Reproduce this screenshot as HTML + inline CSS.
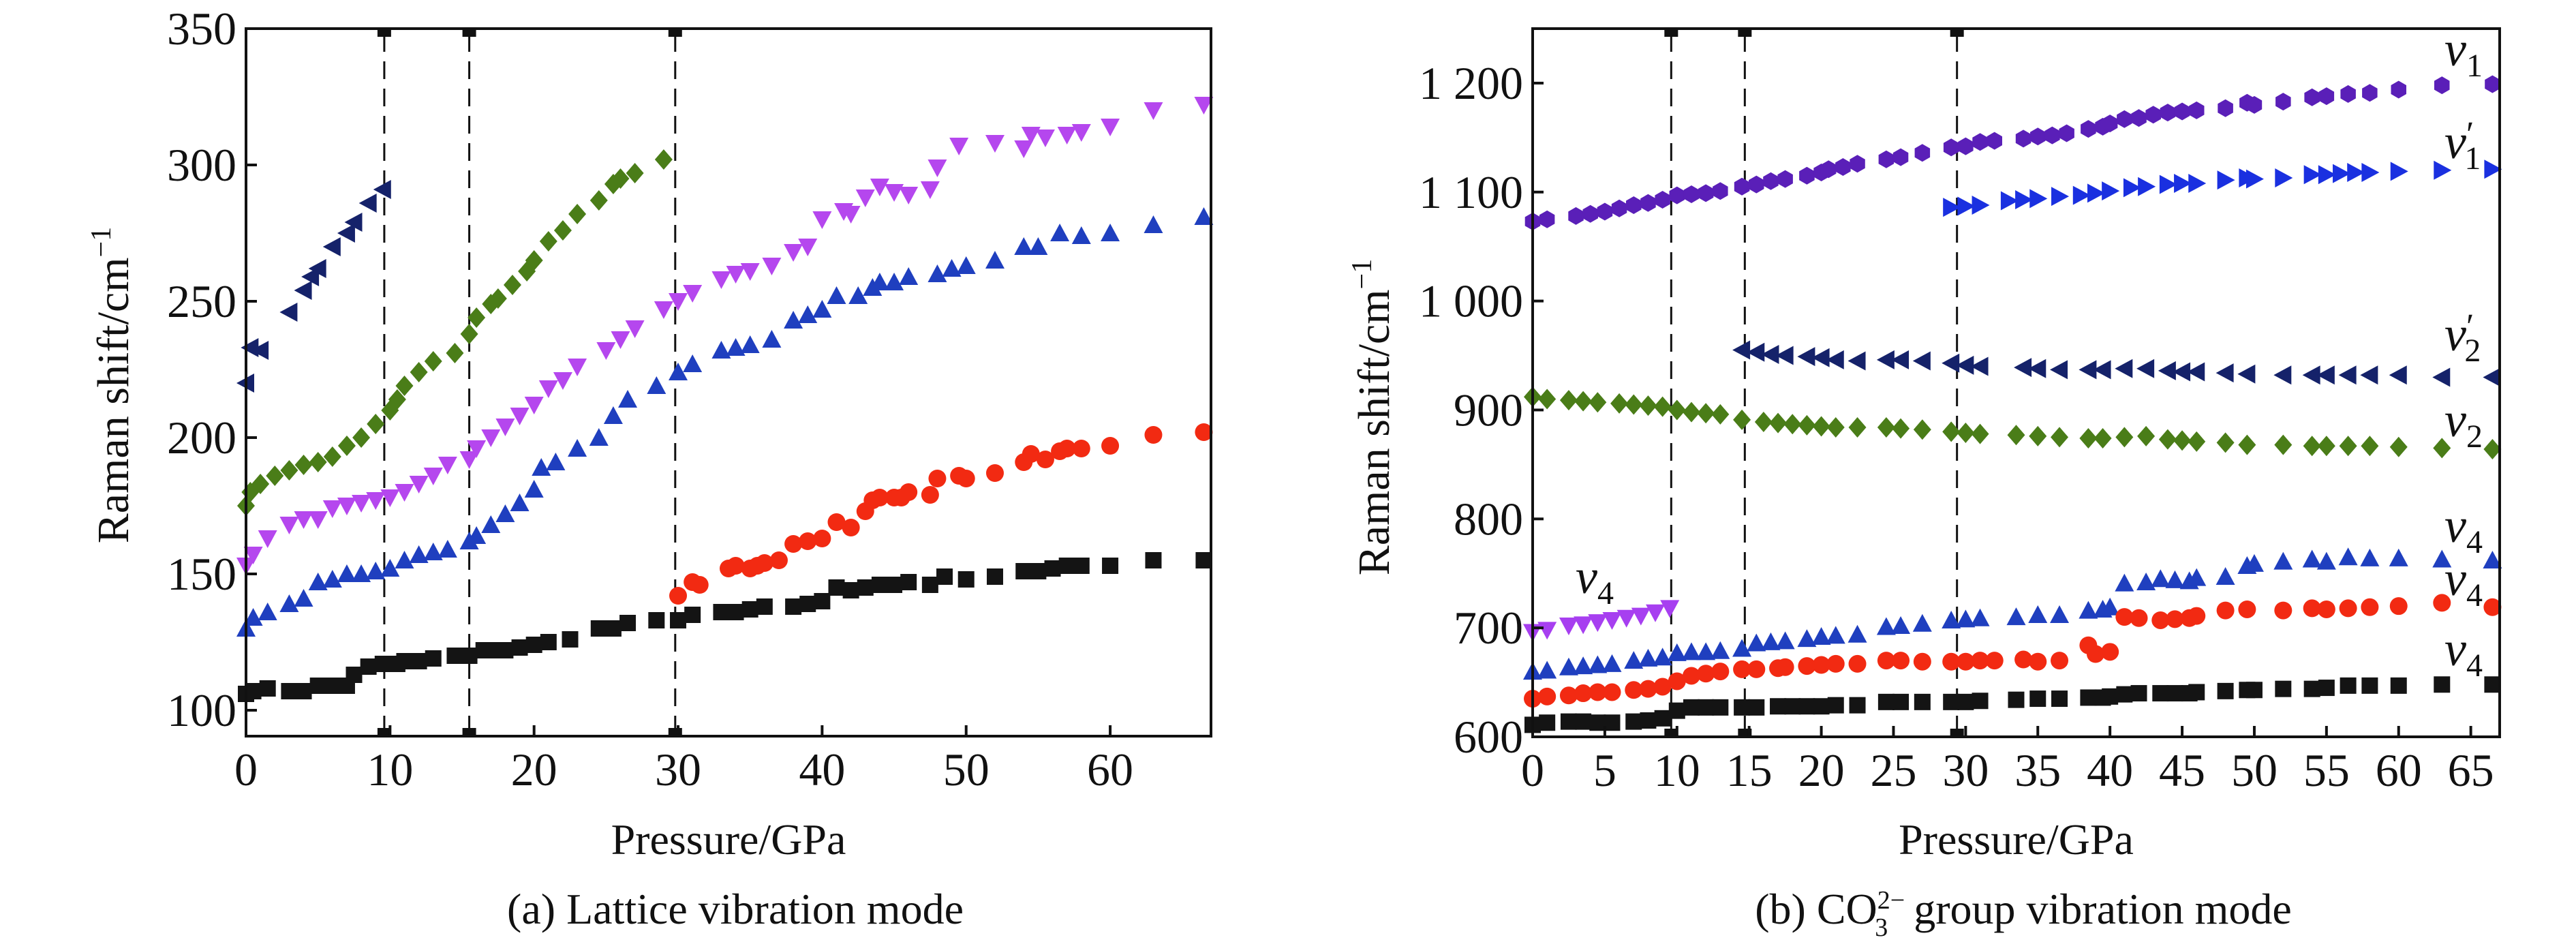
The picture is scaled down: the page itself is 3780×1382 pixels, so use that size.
<!DOCTYPE html>
<html><head><meta charset="utf-8">
<style>
html,body{margin:0;padding:0;background:#fff;}
svg{display:block;}
svg text{font-family:"Liberation Serif","DejaVu Serif",serif !important;fill:#111;}
</style></head>
<body>
<svg id="fig" width="3780" height="1382" viewBox="0 0 3780 1382" xmlns="http://www.w3.org/2000/svg" font-family="Liberation Serif, DejaVu Serif, serif">
<g id="pa"></g>
<g id="pb"></g>
</svg>
<script>
// ---------- Panel (a) data ----------
const aBlackX=[0,0.5,1.5,3,4,5,6,7,7.5,8.5,9.5,10.5,11,12,13,14.5,15.5,16.5,17.5,18,19,20,21,22.5,24.5,25.5,26.5,28.5,30,31,33,34,35,36,38,39,40,41,42,43,44,45,46,47.5,48.5,50,52,54,55,56,57,58,60,63,66.5];
const aBlackY=[106,107,108,107,107,109,109,109,113,116,117,117,118,118,119,120,120,122,122,122,123,124,125,126,130,130,132,133,133,135,136,136,137,138,138,139,140,145,144,145,146,146,147,146,149,148,149,151,151,152,153,153,153,155,155];
const aRedX=[30,31,31.5,33.5,34,35,35.5,36,37,38,39,40,41,42,43,43.5,44,45,45.5,46,47.5,48,49.5,50,52,54,54.5,55.5,56.5,57,58,60,63,66.5];
const aRedY=[142,147,146,152,153,152,153,154,155,161,162,163,169,167,173,177,178,178,178,180,179,185,186,185,187,191,194,192,195,196,196,197,201,202];
const aBlueX=[0,0.5,1.5,3,4,5,6,7,8,9,10,11,12,13,14,15.5,16,17,18,19,20,20.5,21.5,23,24.5,25.5,26.5,28.5,30,31,33,34,35,36.5,38,39,40,41,42.5,43.5,44,45,46,48,49,50,52,54,55,56.5,58,60,63,66.5];
const aBlueY=[130,134,136,139,141,147,148,150,150,151,152,155,157,158,159,162,164,168,172,176,181,189,191,196,200,208,214,219,224,227,232,233,234,236,243,245,247,252,252,255,257,257,259,260,262,263,265,270,270,275,274,275,278,281];
const aMagX=[0,0.5,1.5,3,4,5,6,7,8,9,10,11,12,13,14,15.5,16,17,18,19,20,21,22,23,25,26,27,29,30,31,33,34,35,36.5,38,39,40,41.5,42,43,44,45,46,47.5,48,49.5,52,54,54.5,55.5,57,58,60,63,66.5];
const aMagY=[153,157,163,168,170,170,174,175,176,177,178,180,183,186,190,192,196,200,204,208,212,218,221,226,232,236,240,247,250,253,258,260,261,263,268,270,280,283,282,288,292,290,289,291,299,307,308,306,311,310,311,312,314,320,322];
const aGreenX=[0,0.3,1,2,3,4,5,6,7,8,9,10,10.5,11,12,13,14.5,15.5,16,17,17.5,18.5,19.5,20,21,22,23,24.5,25.5,26,27,29];
const aGreenY=[175,180,183,186,188,190,191,193,197,200,205,210,214,219,224,228,231,238,244,249,251,256,261,265,272,276,282,287,293,295,297,302];
const aNavyX=[0,0.3,1,3,4,4.5,5,6,7,7.5,8.5,9.5];
const aNavyY=[220,233,232,246,254,259,262,270,275,279,286,291];
const aXTicks=[0,10,20,30,40,50,60];
const aYTicks=[100,150,200,250,300,350];
const aDashes=[9.6,15.5,29.8];

// ---------- Panel (b) data ----------
const bV1X=[0,1,3,4,5,6,7,8,9,10,11,12,13,14.5,15.5,16.5,17.5,19,20,20.5,21.5,22.5,24.5,25.5,27,29,30,31,32,34,35,36,37,38.5,39.5,40,41,42,43,44,45,46,48,49.5,50,52,54,55,56.5,58,60,63,66.5];
const bV1Y=[1073,1075,1078,1080,1082,1085,1088,1090,1093,1097,1098,1099,1101,1105,1107,1110,1112,1115,1118,1121,1123,1126,1130,1132,1136,1141,1142,1146,1147,1149,1151,1152,1154,1158,1160,1163,1167,1168,1171,1173,1174,1175,1177,1182,1180,1183,1187,1188,1190,1191,1194,1198,1199];
const bV1pX=[29,30,31,33,34,35,36.5,38,39,40,41.5,42.5,44,45,46,48,49.5,50,52,54,55,56,57,58,60,63,66.5];
const bV1pY=[1086,1087,1088,1092,1093,1094,1096,1097,1099,1101,1104,1105,1107,1108,1108,1111,1113,1112,1113,1116,1116,1117,1118,1118,1119,1120,1121];
const bV2pX=[14.5,15.5,16.5,17.5,19,20,21,22.5,24.5,25.5,27,29,30,31,34,35,36.5,38.5,39.5,41,42.5,44,45,46,48,49.5,52,54,55,56.5,58,60,63,66.5];
const bV2pY=[955,953,951,950,949,948,946,945,946,946,945,943,941,940,939,938,937,937,937,938,938,936,935,935,934,933,932,932,932,932,932,932,930,930];
const bV2X=[0,1,2.5,3.5,4.5,6,7,8,9,10,11,12,13,14.5,16,17,18,19,20,21,22.5,24.5,25.5,27,29,30,31,33.5,35,36.5,38.5,39.5,41,42.5,44,45,46,48,49.5,52,54,55,56.5,58,60,63,66.5];
const bV2Y=[912,910,909,908,907,906,905,904,903,900,898,897,896,891,889,888,887,886,885,884,884,884,883,882,880,879,878,877,876,875,874,874,875,876,873,872,871,870,868,868,867,867,867,867,866,865,864];
const bMagX=[0,1,2.5,3.5,4.5,5.5,6.5,7.5,8.5,9.5];
const bMagY=[696,698,702,703,705,707,709,711,714,718];
const bBlueX=[0,1,2.5,3.5,4.5,5.5,7,8,9,10,11,12,13,14.5,15.5,16.5,17.5,19,20,21,22.5,24.5,25.5,27,29,30,31,33.5,35,36.5,38.5,39.5,40,41,42.5,43.5,44.5,45.5,46,48,49.5,50,52,54,55,56.5,58,60,63,66.5];
const bBlueY=[660,661,664,665,666,667,670,672,673,677,678,678,679,681,686,687,688,690,692,693,694,701,702,704,707,708,709,710,712,712,716,717,719,741,742,745,744,743,746,747,757,759,761,763,761,765,764,764,763,762];
const bRedX=[0,1,2.5,3.5,4.5,5.5,7,8,9,10,11,12,13,14.5,15.5,17,17.5,19,20,21,22.5,24.5,25.5,27,29,30,31,32,34,35,36.5,38.5,39,40,41,42,43.5,44.5,45.5,46,48,49.5,52,54,55,56.5,58,60,63,66.5];
const bRedY=[635,637,638,640,641,641,643,644,646,651,656,658,660,662,662,663,664,665,666,667,667,670,670,669,669,669,670,670,671,669,670,684,676,678,710,709,707,708,709,711,716,717,716,718,717,718,719,720,723,719];
const bBlackX=[0,1,2.5,3.5,4.5,5.5,7,8,9,10,11,12,13,14.5,15.5,17,18,19,20,21,22.5,24.5,25.5,27,29,30,31,33.5,35,36.5,38.5,39.5,40,41,42,43.5,44.5,45.5,46,48,49.5,50,52,54,55,56.5,58,60,63,66.5];
const bBlackY=[611,613,614,614,613,613,614,615,617,624,627,627,627,627,627,628,628,628,628,629,629,632,632,632,632,632,633,634,635,635,636,636,637,639,640,640,640,640,641,642,643,643,644,644,645,647,647,647,648,648];
const bXTicks=[0,5,10,15,20,25,30,35,40,45,50,55,60,65];
const bYTicks=[600,700,800,900,1000,1100,1200];
const bYLabels=["600","700","800","900","1 000","1 100","1 200"];
const bDashes=[9.6,14.7,29.4];

const NS="http://www.w3.org/2000/svg";
const FONT='Liberation Serif, DejaVu Serif, serif';
function mk(tag,attrs,parent){const e=document.createElementNS(NS,tag);for(const k in attrs)e.setAttribute(k,attrs[k]);if(tag==='text')e.setAttribute('font-family',FONT);parent.appendChild(e);return e;}

function marker(g,shape,cx,cy,color){
  const s=13;let e;
  if(shape==='sq'){e=mk('rect',{x:cx-s+1,y:cy-s+1,width:2*s-2,height:2*s-2,fill:color},g);}
  else if(shape==='circ'){e=mk('circle',{cx:cx,cy:cy,r:s,fill:color},g);}
  else if(shape==='hex'){const p=[];for(let i=0;i<6;i++){const a=Math.PI/6+i*Math.PI/3;p.push((cx+s*Math.cos(a)).toFixed(1)+','+(cy+s*Math.sin(a)).toFixed(1));}e=mk('polygon',{points:p.join(' '),fill:color},g);}
  else if(shape==='up'){e=mk('polygon',{points:`${cx},${cy-s-1} ${cx+s+1},${cy+s-1} ${cx-s-1},${cy+s-1}`,fill:color},g);}
  else if(shape==='down'){e=mk('polygon',{points:`${cx},${cy+s+1} ${cx+s+1},${cy-s+1} ${cx-s-1},${cy-s+1}`,fill:color},g);}
  else if(shape==='left'){e=mk('polygon',{points:`${cx-s-1},${cy} ${cx+s-1},${cy-s-1} ${cx+s-1},${cy+s+1}`,fill:color},g);}
  else if(shape==='right'){e=mk('polygon',{points:`${cx+s+1},${cy} ${cx-s+1},${cy-s-1} ${cx-s+1},${cy+s+1}`,fill:color},g);}
  else if(shape==='dia'){e=mk('polygon',{points:`${cx},${cy-s-2} ${cx+s},${cy} ${cx},${cy+s+2} ${cx-s},${cy}`,fill:color},g);}
  
  
  return e;
}

function panel(g,cfg){
  const L=cfg.L,R=cfg.R,T=cfg.T,B=cfg.B;
  const sx=v=>L+(v-cfg.x0)/(cfg.x1-cfg.x0)*(R-L);
  const sy=v=>B-(v-cfg.y0)/(cfg.y1-cfg.y0)*(B-T);
  cfg.dashes.forEach(d=>{
    const x=sx(d);
    const ln=mk('line',{x1:x,y1:T+8,x2:x,y2:B-8,stroke:'#111','stroke-width':3,'stroke-dasharray':'26,14'},g);
    
    
    const r1=mk('rect',{x:x-10,y:T,width:20,height:12,fill:'#111'},g);
    
    
    const r2=mk('rect',{x:x-10,y:B-12,width:20,height:12,fill:'#111'},g);
    
    
  });
  cfg.series.forEach(s=>{
    const sg=mk('g',{},g);
    
    
    s.x.forEach((xv,i)=>marker(sg,s.shape,sx(xv),sy(s.y[i]),s.color));
  });
  const fr=mk('rect',{x:L,y:T,width:R-L,height:B-T,fill:'none',stroke:'#111','stroke-width':4},g);
  
  
  cfg.xTicks.forEach(t=>{
    const x=sx(t);
    const tk=mk('line',{x1:x,y1:B,x2:x,y2:B-16,stroke:'#111','stroke-width':4},g);
    
    
    const tx=mk('text',{x:x,y:B+72,'font-size':68,'text-anchor':'middle'},g);
    tx.textContent=String(t);
    
    
  });
  cfg.yTicks.forEach((t,i)=>{
    const y=sy(t);
    const tk=mk('line',{x1:L,y1:y,x2:L+16,y2:y,stroke:'#111','stroke-width':4},g);
    
    
    const tx=mk('text',{x:L-14,y:y+23,'font-size':68,'text-anchor':'end'},g);
    tx.textContent=cfg.yLabels?cfg.yLabels[i]:String(t);
    
    
  });
  const xt=mk('text',{x:(L+R)/2,y:1253,'font-size':64,'text-anchor':'middle'},g);
  xt.textContent='Pressure/GPa';
  
  
  const yt=mk('text',{x:0,y:0,'font-size':66,'text-anchor':'middle',transform:`translate(${cfg.ytX},${cfg.ytY}) rotate(-90)`},g);
  yt.innerHTML='Raman shift/cm<tspan dy="-26" font-size="42">−1</tspan>';
  
  
  return {sx,sy};
}

const ga=document.getElementById('pa');
panel(ga,{L:361,R:1777,T:42,B:1080,x0:0,x1:67,y0:90.5,y1:350,dashes:aDashes,xTicks:aXTicks,yTicks:aYTicks,ytX:188,ytY:565,
 series:[
  {name:'series-black-squares',shape:'sq',color:'#141414',x:aBlackX,y:aBlackY},
  {name:'series-red-circles',shape:'circ',color:'#f22a12',x:aRedX,y:aRedY},
  {name:'series-blue-up-triangles',shape:'up',color:'#1f3fbf',x:aBlueX,y:aBlueY},
  {name:'series-magenta-down-triangles',shape:'down',color:'#b547ee',x:aMagX,y:aMagY},
  {name:'series-green-diamonds',shape:'dia',color:'#4a7d18',x:aGreenX,y:aGreenY},
  {name:'series-navy-left-triangles',shape:'left',color:'#15226a',x:aNavyX,y:aNavyY}
 ]});
const ca=mk('text',{x:1079,y:1355,'font-size':64,'text-anchor':'middle'},ga);
ca.textContent='(a) Lattice vibration mode';



const gb=document.getElementById('pb');
panel(gb,{L:2249,R:3668,T:42,B:1081,x0:0,x1:67,y0:600,y1:1250,dashes:bDashes,xTicks:bXTicks,yTicks:bYTicks,yLabels:bYLabels,ytX:2038,ytY:612,
 series:[
  {name:'series-v1-hexagons',shape:'hex',color:'#5a1fb8',x:bV1X,y:bV1Y},
  {name:'series-v1-prime-right-triangles',shape:'right',color:'#1a30e0',x:bV1pX,y:bV1pY},
  {name:'series-v2-prime-left-triangles',shape:'left',color:'#15226a',x:bV2pX,y:bV2pY},
  {name:'series-v2-diamonds',shape:'dia',color:'#4a7d18',x:bV2X,y:bV2Y},
  {name:'series-v4-magenta-down-triangles',shape:'down',color:'#a73ff0',x:bMagX,y:bMagY},
  {name:'series-v4-blue-up-triangles',shape:'up',color:'#1f3fbf',x:bBlueX,y:bBlueY},
  {name:'series-v4-red-circles',shape:'circ',color:'#f22a12',x:bRedX,y:bRedY},
  {name:'series-v4-black-squares',shape:'sq',color:'#141414',x:bBlackX,y:bBlackY}
 ]});
const labels=[
 {x:3587,y:96,sub:'1',p:false,n:'label-v1'},
 {x:3587,y:232,sub:'1',p:true,n:'label-v1-prime'},
 {x:3587,y:514,sub:'2',p:true,n:'label-v2-prime'},
 {x:3587,y:640,sub:'2',p:false,n:'label-v2'},
 {x:3587,y:795,sub:'4',p:false,n:'label-v4-blue'},
 {x:3587,y:873,sub:'4',p:false,n:'label-v4-red'},
 {x:3587,y:976,sub:'4',p:false,n:'label-v4-black'},
 {x:2312,y:870,sub:'4',p:false,n:'label-v4-magenta'}
];
labels.forEach(l=>{
  const t=mk('text',{x:l.x,y:l.y,'font-size':72,'font-style':'italic'},gb);
  t.innerHTML='ν'+(l.p?'<tspan dx="0" dy="-18" font-size="52" font-style="normal">′</tspan><tspan dx="-14" dy="34" font-size="48" font-style="normal">'+l.sub+'</tspan>':'<tspan dy="16" font-size="48" font-style="normal">'+l.sub+'</tspan>');
  
  
});
const cb=mk('text',{x:2969,y:1355,'font-size':64,'text-anchor':'middle'},gb);
cb.innerHTML='(b) CO<tspan font-size="38" dy="-22">2−</tspan><tspan font-size="38" dx="-44" dy="40">3</tspan><tspan dx="22" dy="-18"> group vibration mode</tspan>';


</script>
</body></html>
